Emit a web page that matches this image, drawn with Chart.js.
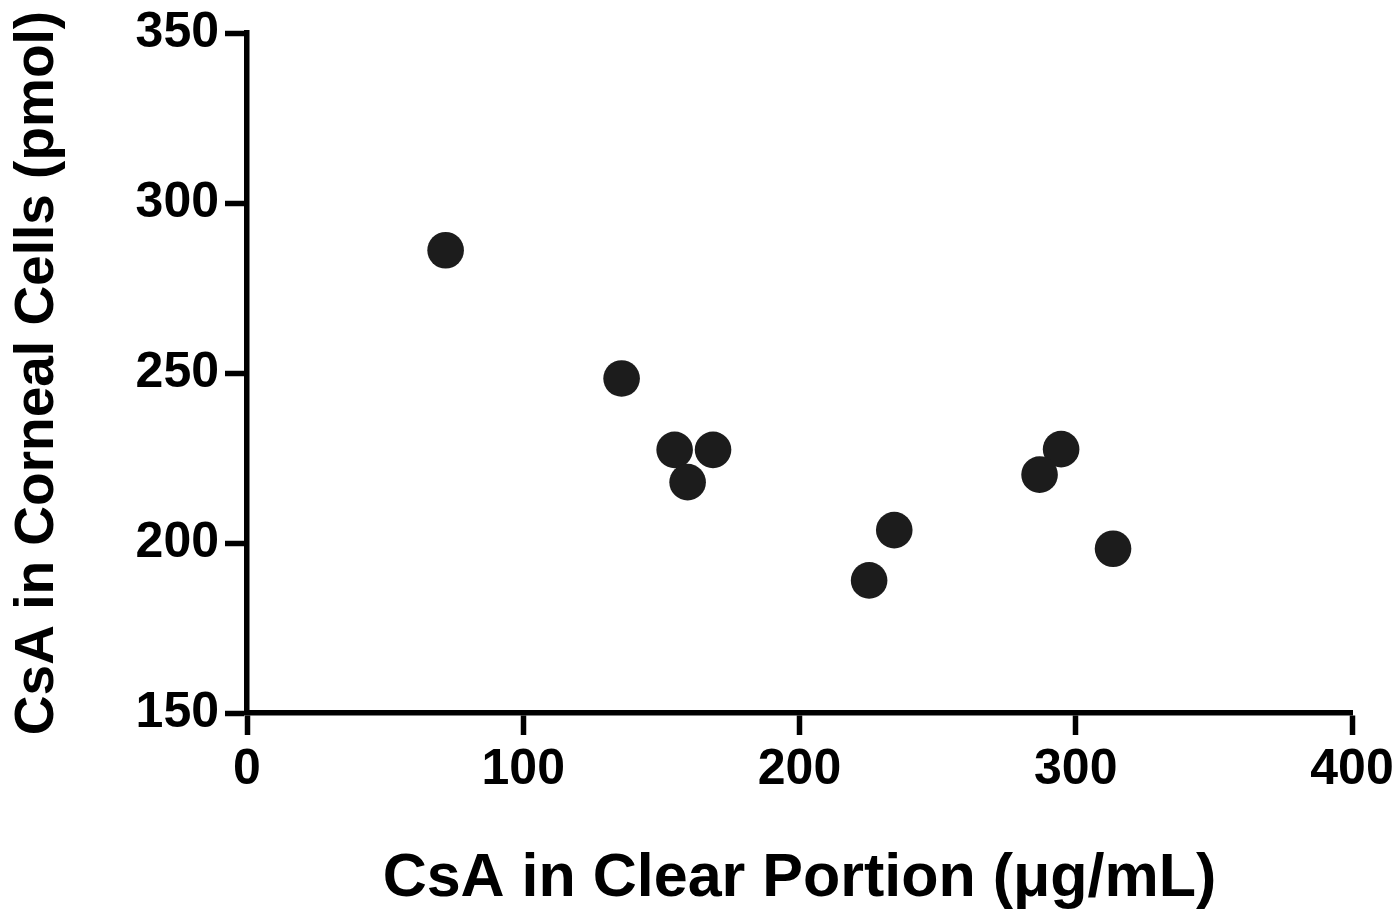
<!DOCTYPE html>
<html>
<head>
<meta charset="utf-8">
<script src="https://cdn.jsdelivr.net/npm/chart.js@4"></script>
<style>
  body { margin: 0; background: #fff; }
  #wrap { width: 1400px; height: 911px; }
</style>
</head>
<body>
<div id="wrap"><canvas id="scatter-chart"></canvas></div>
<script>
// CsA in clear portion (ug/mL) vs CsA in corneal cells (pmol)
const clearPortion = [71.9, 135.6, 154.8, 168.7, 159.5, 225.2, 234.3, 294.7, 286.9, 313.5];
const cornealCells = [286.1, 248.4, 227.4, 227.4, 217.9, 189.0, 203.8, 227.6, 220.1, 198.3];
const xTicks = [0, 100, 200, 300, 400];
const yTicks = [150, 200, 250, 300, 350];

const points = clearPortion.map(function (x, i) {
  return { x: x, y: cornealCells[i] };
});

const fontFamily = "'Liberation Sans', Arial, Helvetica, sans-serif";

new Chart(document.getElementById("scatter-chart"), {
  type: 'scatter',
  data: {
    datasets: [{
      data: points,
      backgroundColor: '#1c1c1c',
      borderWidth: 0,
      pointRadius: 18.3,
      pointHoverRadius: 18.3
    }]
  },
  options: {
    responsive: true,
    maintainAspectRatio: false,
    animation: false,
    layout: { padding: { left: 0, right: 48, top: 33, bottom: 0 } },
    plugins: {
      legend: { display: false },
      tooltip: { enabled: false }
    },
    scales: {
      x: {
        type: 'linear',
        min: xTicks[0],
        max: xTicks[xTicks.length - 1],
        afterBuildTicks: function (scale) {
          scale.ticks = xTicks.map(function (v) { return { value: v }; });
        },
        afterFit: function (scale) { scale.height = 198; },
        border: { display: true, color: '#000', width: 5.5 },
        grid: { drawOnChartArea: false, drawTicks: true, tickLength: 22, tickWidth: 5.5, tickColor: '#000' },
        ticks: {
          color: '#000',
          padding: 5,
          maxRotation: 0,
          font: { family: fontFamily, size: 50, weight: 'bold' }
        },
        title: {
          display: true,
          text: 'CsA in Clear Portion (\u03bcg/mL)',
          color: '#000',
          padding: { top: 0, bottom: 1 },
          font: { family: fontFamily, size: 61, weight: 'bold', lineHeight: 1 }
        }
      },
      y: {
        type: 'linear',
        min: yTicks[0],
        max: yTicks[yTicks.length - 1],
        afterBuildTicks: function (scale) {
          scale.ticks = yTicks.map(function (v) { return { value: v }; });
        },
        afterFit: function (scale) { scale.width = 247; },
        border: { display: true, color: '#000', width: 5.5 },
        grid: { drawOnChartArea: false, drawTicks: true, tickLength: 22, tickWidth: 5.5, tickColor: '#000' },
        ticks: {
          color: '#000',
          padding: 6,
          font: { family: fontFamily, size: 50, weight: 'bold', lineHeight: 1 }
        },
        title: {
          display: true,
          text: 'CsA in Corneal Cells (pmol)',
          color: '#000',
          padding: { top: 10, bottom: 0 },
          font: { family: fontFamily, size: 55, weight: 'bold', lineHeight: 1 }
        }
      }
    }
  }
});
</script>
</body>
</html>
